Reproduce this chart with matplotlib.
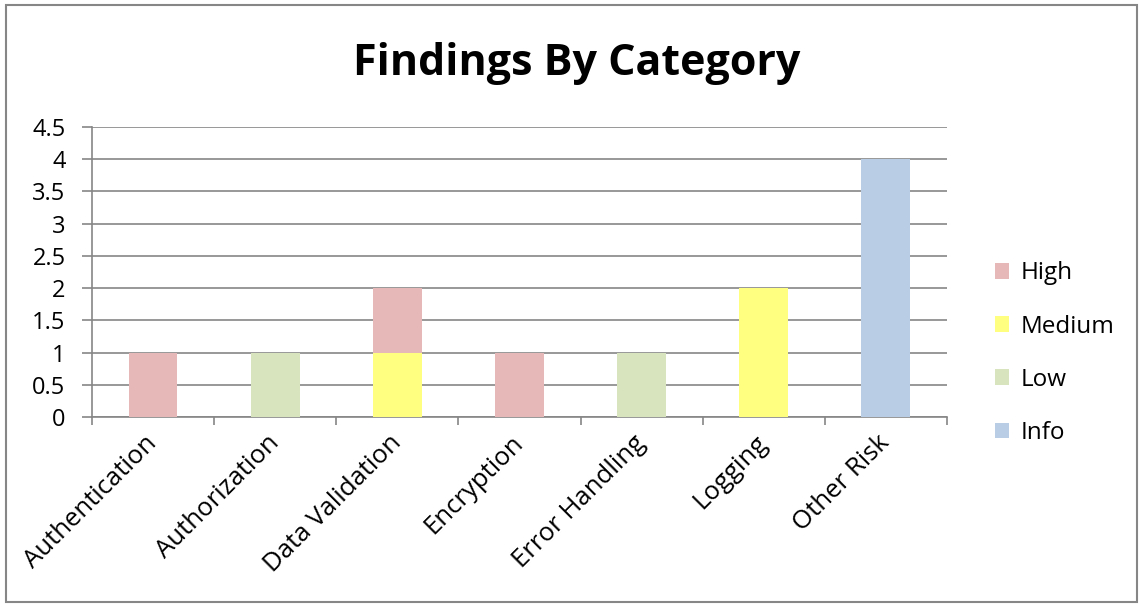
import matplotlib
matplotlib.use("Agg")
import matplotlib.pyplot as plt
import numpy as np

# data
categories = ["Authentication", "Authorization", "Data Validation", "Encryption",
              "Error Handling", "Logging", "Other Risk"]
info = [0, 0, 0, 0, 0, 0, 4]
low = [0, 1, 0, 0, 1, 0, 0]
medium = [0, 0, 1, 0, 0, 2, 0]
high = [1, 0, 1, 1, 0, 0, 0]
yticks = [0, 0.5, 1, 1.5, 2, 2.5, 3, 3.5, 4, 4.5]
ytick_labels = ["0", "0.5", "1", "1.5", "2", "2.5", "3", "3.5", "4", "4.5"]

plt.rcParams['font.family'] = ['Open Sans', 'DejaVu Sans']

fig = plt.figure(figsize=(11.4, 6.07), dpi=100)
ax = fig.add_axes([0.0807, 0.313, 0.75, 0.478])

x = np.arange(len(categories))
w = 0.4
bottom = np.zeros(len(categories))
bars = {}
for name, vals, col in [("Info", info, "#B9CDE5"), ("Low", low, "#D7E4BD"),
                        ("Medium", medium, "#FFFF80"), ("High", high, "#E6B9B8")]:
    bars[name] = ax.bar(x, vals, w, bottom=bottom, color=col, zorder=3, label=name)
    bottom += np.array(vals)

ax.set_xlim(-0.5, len(categories) - 0.5)
ax.set_ylim(0, 4.5)
ax.set_yticks(yticks)
ax.set_yticklabels(ytick_labels)
ax.yaxis.grid(True, color="#868686", linewidth=1.2, zorder=0)

ax.set_xticks(x)
ax.set_xticklabels(categories, rotation=45, ha="right", va="center", rotation_mode="anchor")
ax.set_xticks(np.arange(len(categories) + 1) - 0.5, minor=True)
ax.tick_params(axis="x", which="major", length=0, pad=16, labelsize=18.5)
ax.tick_params(axis="x", which="minor", length=6, color="#868686", width=1.2)
ax.tick_params(axis="y", length=7, color="#868686", width=1.2, labelsize=17, pad=12)

for s in ["top", "right"]:
    ax.spines[s].set_visible(False)
ax.spines["left"].set_color("#868686")
ax.spines["bottom"].set_color("#868686")
ax.spines["left"].set_linewidth(1.2)
ax.spines["bottom"].set_linewidth(1.2)

fig.text(0.506, 0.895, "Findings By Category", ha="center", va="center",
         fontsize=31, fontweight="bold")

handles = [bars["High"], bars["Medium"], bars["Low"], bars["Info"]]
ax.legend(handles, ["High", "Medium", "Low", "Info"], loc="center left",
          bbox_to_anchor=(1.056, 0.22), frameon=False, fontsize=17.5,
          borderaxespad=0, borderpad=0,
          handlelength=0.6, handleheight=0.6, handletextpad=0.45, labelspacing=1.2)

# outer chart border
fig.patches.append(plt.Rectangle((0.005, 0.008), 0.992, 0.984, transform=fig.transFigure,
                                 fill=False, edgecolor="#868686", linewidth=1.5))

fig.savefig("out.png", dpi=100)
